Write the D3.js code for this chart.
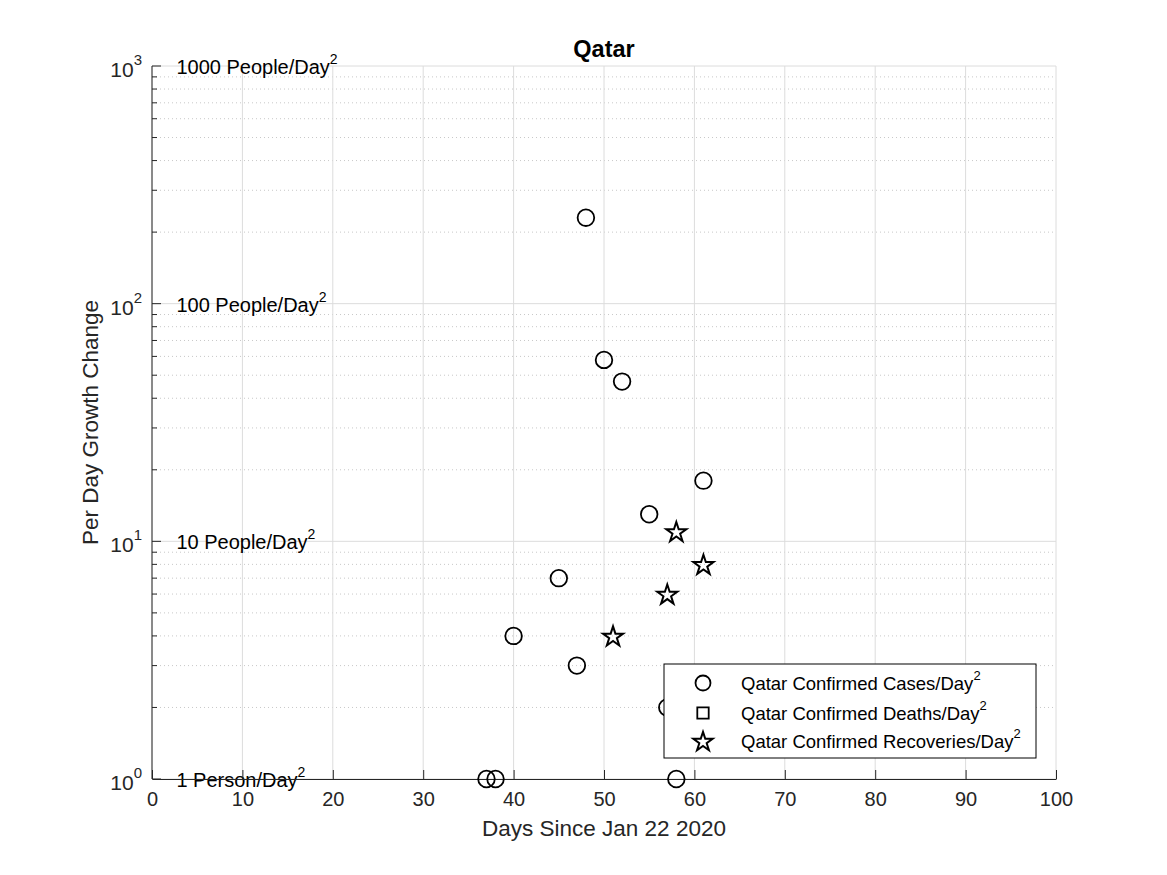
<!DOCTYPE html>
<html>
<head>
<meta charset="utf-8">
<script src="https://cdn.jsdelivr.net/npm/d3@7"></script>
<style>
  body { margin: 0; background: #fff; }
  svg { font-family: "Liberation Sans", Arial, Helvetica, sans-serif; }
</style>
</head>
<body>
<div id="chart"></div>
<script>
// Qatar - per day growth change (log scale)
const casesDays = [37, 38, 40, 45, 47, 48, 50, 52, 55, 57, 58, 61]
const casesVals = [1, 1, 4, 7, 3, 230, 58, 47, 13, 2, 1, 18]
const deathsDays = []
const deathsVals = []
const recovDays = [51, 57, 58, 61]
const recovVals = [4, 6, 11, 8]
const xTicks = [0, 10, 20, 30, 40, 50, 60, 70, 80, 90, 100]
const yExps = [0, 1, 2, 3]
const refLabels = ["1 Person/Day", "10 People/Day", "100 People/Day", "1000 People/Day"]
const legendLabels = ["Qatar Confirmed Cases/Day", "Qatar Confirmed Deaths/Day", "Qatar Confirmed Recoveries/Day"]

const W = 1167, H = 875
const margin = {top: 66, right: 111, bottom: 96, left: 152}
const axisCol = "#262626"

const svg = d3.select("#chart").append("svg").attr("width", W).attr("height", H)

const x = d3.scaleLinear().domain([0, 100]).range([margin.left, W - margin.right])
const y = d3.scaleLog().domain([1, 1000]).range([H - margin.bottom, margin.top])

// grid
const minor = []
for (let e = 0; e < 3; e++) for (let k = 2; k <= 9; k++) minor.push(k * Math.pow(10, e))
const grid = svg.append("g")
grid.selectAll(".mg").data(minor).join("line")
  .attr("x1", x(0)).attr("x2", x(100))
  .attr("y1", d => y(d)).attr("y2", d => y(d))
  .attr("stroke", "#c8c8c8").attr("stroke-width", 1).attr("stroke-dasharray", "1,3")
grid.selectAll(".gy").data(yExps).join("line")
  .attr("x1", x(0)).attr("x2", x(100))
  .attr("y1", d => y(Math.pow(10, d))).attr("y2", d => y(Math.pow(10, d)))
  .attr("stroke", "#dcdcdc").attr("stroke-width", 1)
grid.selectAll(".gx").data(xTicks).join("line")
  .attr("x1", d => x(d)).attr("x2", d => x(d))
  .attr("y1", y(1)).attr("y2", y(1000))
  .attr("stroke", "#dcdcdc").attr("stroke-width", 1)

// reference labels
const ref = svg.append("g").attr("font-size", 20).attr("fill", "#000")
refLabels.forEach((t, i) => {
  const tx = ref.append("text").attr("x", x(2.7)).attr("y", y(Math.pow(10, i)) + 8)
  tx.append("tspan").text(t)
  tx.append("tspan").attr("dy", -10).attr("font-size", 14).text("2")
})

// axes
const xAxis = d3.axisBottom(x).tickValues(xTicks).tickSizeInner(-9).tickSizeOuter(0).tickPadding(13)
const gx = svg.append("g").attr("transform", `translate(0,${y(1)})`).call(xAxis)
gx.select(".domain").attr("stroke", axisCol)
gx.selectAll(".tick line").attr("stroke", axisCol)
gx.selectAll(".tick text").attr("fill", axisCol).attr("font-size", 20)
  .attr("font-family", "Liberation Sans, Arial, sans-serif")

const gy = svg.append("g").attr("transform", `translate(${x(0)},0)`)
gy.append("line").attr("x1", 0).attr("x2", 0).attr("y1", y(1)).attr("y2", y(1000)).attr("stroke", axisCol)
gy.selectAll(".maj").data(yExps).join("line")
  .attr("x1", 0).attr("x2", 9).attr("y1", d => y(Math.pow(10, d))).attr("y2", d => y(Math.pow(10, d)))
  .attr("stroke", axisCol)
gy.selectAll(".min").data(minor).join("line")
  .attr("x1", 0).attr("x2", 5).attr("y1", d => y(d)).attr("y2", d => y(d))
  .attr("stroke", axisCol)
yExps.forEach(e => {
  const t = gy.append("text").attr("x", -10).attr("y", y(Math.pow(10, e)) + 11)
    .attr("text-anchor", "end").attr("fill", axisCol).attr("font-size", 21)
  t.append("tspan").text("10")
  t.append("tspan").attr("dy", -12).attr("font-size", 15).text(e)
})

// title and labels
svg.append("text").attr("x", (x(0) + x(100)) / 2).attr("y", 57).attr("text-anchor", "middle")
  .attr("font-weight", "bold").attr("font-size", 23.5).attr("fill", "#000").text("Qatar")
svg.append("text").attr("x", (x(0) + x(100)) / 2).attr("y", 836).attr("text-anchor", "middle")
  .attr("font-size", 22.5).attr("fill", axisCol).text("Days Since Jan 22 2020")
svg.append("text").attr("transform", `translate(98,${(y(1) + y(1000)) / 2}) rotate(-90)`)
  .attr("text-anchor", "middle").attr("font-size", 22.5).attr("fill", axisCol).text("Per Day Growth Change")

// markers
const star = d3.symbol().type(d3.symbolStar).size(125)
const square = d3.symbol().type(d3.symbolSquare).size(150)
const cases = casesDays.map((d, i) => [d, casesVals[i]])
const deaths = deathsDays.map((d, i) => [d, deathsVals[i]])
const recov = recovDays.map((d, i) => [d, recovVals[i]])

svg.append("g").selectAll("circle").data(cases).join("circle")
  .attr("cx", d => x(d[0])).attr("cy", d => y(d[1])).attr("r", 8.3)
  .attr("fill", "none").attr("stroke", "#000").attr("stroke-width", 1.8)
svg.append("g").selectAll("path").data(deaths).join("path")
  .attr("transform", d => `translate(${x(d[0])},${y(d[1])})`).attr("d", square)
  .attr("fill", "none").attr("stroke", "#000").attr("stroke-width", 1.8)
svg.append("g").selectAll("path").data(recov).join("path")
  .attr("transform", d => `translate(${x(d[0])},${y(d[1]) + 1})`).attr("d", star)
  .attr("fill", "none").attr("stroke", "#000").attr("stroke-width", 2)

// legend
const lg = svg.append("g").attr("transform", "translate(664,664)")
lg.append("rect").attr("width", 372).attr("height", 94).attr("fill", "#fff").attr("stroke", "#000").attr("stroke-width", 1)
const rows = [19, 49, 77]
lg.append("circle").attr("cx", 39).attr("cy", rows[0]).attr("r", 7.5)
  .attr("fill", "none").attr("stroke", "#000").attr("stroke-width", 1.8)
lg.append("path").attr("transform", `translate(39,${rows[1]})`).attr("d", d3.symbol().type(d3.symbolSquare).size(130))
  .attr("fill", "none").attr("stroke", "#000").attr("stroke-width", 1.8)
lg.append("path").attr("transform", `translate(39,${rows[2] + 1})`).attr("d", d3.symbol().type(d3.symbolStar).size(115))
  .attr("fill", "none").attr("stroke", "#000").attr("stroke-width", 2)
legendLabels.forEach((t, i) => {
  const tx = lg.append("text").attr("x", 77).attr("y", rows[i] + 7).attr("font-size", 18.5).attr("fill", "#000")
  tx.append("tspan").text(t)
  tx.append("tspan").attr("dy", -10).attr("font-size", 13).text("2")
})
</script>
</body>
</html>
